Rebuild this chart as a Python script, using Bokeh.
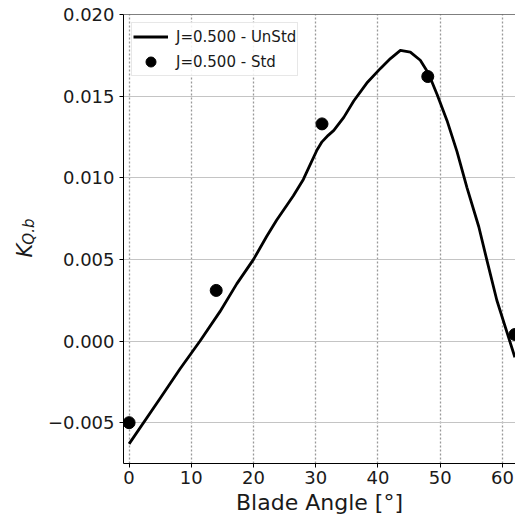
import math
from bokeh.plotting import figure
from bokeh.layouts import row
from bokeh.models import (Range1d, FixedTicker, CustomJSTickFormatter, Span, Label,
                          Legend, LegendItem, ColumnDataSource)
from bokeh.embed import file_html
from bokeh.resources import INLINE

# Unsteady curve
unstd_angle = [0.0, 5.0, 8.2, 11.4, 14.6, 17.3, 20.0, 22.1, 23.7, 26.4, 28.0, 29.1,
               30.2, 31.0, 32.0, 32.9, 34.5, 36.1, 38.2, 40.4, 42.0, 43.6, 45.2, 46.8,
               48.1, 49.5, 51.1, 52.7, 54.3, 56.2, 57.6, 59.1, 62.0]
unstd_kq = [-0.0063, -0.0035, -0.0017, 0.0000, 0.0018, 0.0035, 0.0050, 0.0064, 0.0074,
            0.0089, 0.0099, 0.0108, 0.0117, 0.0122, 0.0126, 0.0129, 0.0137, 0.0147,
            0.0158, 0.0167, 0.0173, 0.0178, 0.0177, 0.0172, 0.0164, 0.0151, 0.0135,
            0.0116, 0.0094, 0.0070, 0.0048, 0.0025, -0.0010]

# Steady points
std_angle = [0, 14, 31, 48, 62]
std_kq = [-0.0050, 0.0031, 0.0133, 0.0162, 0.0004]

x_ticks = [0, 10, 20, 30, 40, 50, 60]
y_ticks = [-0.005, 0.0, 0.005, 0.010, 0.015, 0.020]

FONT = "DejaVu Sans"
TXT = "#1a1a1a"
LW = 43  # width of the strip holding the y-axis label

p = figure(width=515 - LW, height=517, output_backend="svg", toolbar_location=None,
           x_range=Range1d(-0.9, 62.1), y_range=Range1d(-0.0075, 0.020),
           min_border_left=123 - LW, min_border_right=0, min_border_top=14,
           min_border_bottom=54)
p.outline_line_color = None
p.background_fill_color = "white"
p.border_fill_color = "white"

# grids
p.xgrid.ticker = FixedTicker(ticks=x_ticks)
p.ygrid.ticker = FixedTicker(ticks=y_ticks)
p.xgrid.grid_line_color = "#999999"
p.xgrid.grid_line_dash = "2 2"
p.xgrid.grid_line_width = 1.3
p.ygrid.grid_line_color = "#c4c4c4"
p.ygrid.grid_line_width = 1

# axes
for ax in (p.xaxis[0], p.yaxis[0]):
    ax.axis_line_color = "black"
    ax.axis_line_width = 1
    ax.major_tick_line_color = "black"
    ax.major_tick_out = 4
    ax.major_tick_in = 0
    ax.minor_tick_line_color = None
    ax.major_label_text_font = FONT
    ax.major_label_text_font_size = "18px"
    ax.major_label_text_color = TXT

p.xaxis.ticker = FixedTicker(ticks=x_ticks)
p.yaxis.ticker = FixedTicker(ticks=y_ticks)
p.xaxis.major_label_standoff = 3
p.yaxis.major_label_standoff = 5
p.yaxis.formatter = CustomJSTickFormatter(
    code="var t = Math.abs(tick) < 1e-12 ? 0 : tick; return t.toFixed(3).replace('-', '\u2212');")
p.xaxis.axis_label = "Blade Angle [°]"
p.xaxis.axis_label_text_font = FONT
p.xaxis.axis_label_text_font_size = "22px"
p.xaxis.axis_label_text_font_style = "normal"
p.xaxis.axis_label_text_color = TXT
p.xaxis.axis_label_standoff = 3

# top spine
p.add_layout(Span(location=0.020, dimension="width", line_color="black", line_width=1))

src_l = ColumnDataSource(dict(x=unstd_angle, y=unstd_kq))
src_s = ColumnDataSource(dict(x=std_angle, y=std_kq))
r_line = p.line("x", "y", source=src_l, line_color="black", line_width=2.8,
                line_join="round")
r_pts = p.scatter("x", "y", source=src_s, size=12, color="black")

legend = Legend(items=[LegendItem(label="J=0.500 - UnStd", renderers=[r_line]),
                       LegendItem(label="J=0.500 - Std", renderers=[r_pts])],
                location="top_left", margin=8, padding=1, spacing=-1,
                glyph_width=35, glyph_height=25, label_height=24, label_standoff=8,
                label_text_font=FONT, label_text_font_size="15px",
                label_text_color=TXT,
                border_line_color="#d0d0d0", border_line_width=1,
                background_fill_color="white", background_fill_alpha=0.85)
p.add_layout(legend)

# strip with the y-axis label K_{Q.b}
lab = figure(width=LW, height=517, output_backend="svg", toolbar_location=None,
             x_range=Range1d(0, LW), y_range=Range1d(0, 517),
             min_border_left=0, min_border_right=0, min_border_top=0, min_border_bottom=0)
lab.axis.visible = False
lab.grid.visible = False
lab.outline_line_color = None
lab.background_fill_color = "white"
lab.border_fill_color = "white"
lab.add_layout(Label(x=24, y=245, text="K", angle=math.pi / 2, text_align="center",
                     text_baseline="alphabetic", text_font=FONT,
                     text_font_style="italic", text_font_size="21px", text_color=TXT))
lab.add_layout(Label(x=28, y=267, text="Q.b", angle=math.pi / 2, text_align="center",
                     text_baseline="alphabetic", text_font=FONT,
                     text_font_style="italic", text_font_size="15px", text_color=TXT))

layout = row(lab, p, spacing=0)
open("out.html", "w").write(file_html(layout, INLINE))
